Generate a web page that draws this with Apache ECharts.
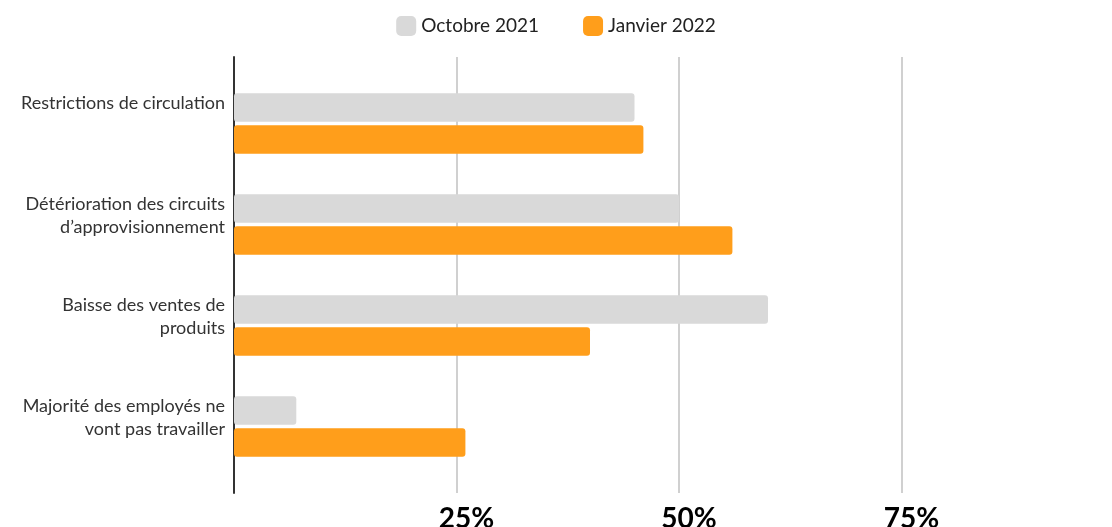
<!DOCTYPE html>
<html>
<head>
<meta charset="utf-8">
<script src="https://cdn.jsdelivr.net/npm/echarts@6/dist/echarts.min.js"></script>
<style>
  html, body { margin: 0; padding: 0; background: #fff; }
  #chart { width: 1112px; height: 527px; }
</style>
</head>
<body>
<div id="chart"></div>
<script>
// données
var categories = [
  "Restrictions de circulation",
  "Détérioration des circuits\nd’approvisionnement",
  "Baisse des ventes de\nproduits",
  "Majorité des employés ne\nvont pas travailler"
];
var seriesNames = ["Octobre 2021", "Janvier 2022"];
var octobre2021 = [45, 50, 60, 7];
var janvier2022 = [46, 56, 40, 26];
var tickValues = [0, 25, 50, 75, 100];

var FONT = "Lato, 'Noto Sans', sans-serif";
var chart = echarts.init(document.getElementById("chart"));

chart.setOption({
  animation: false,
  color: ["#d9d9d9", "#ff9e1b"],
  legend: {
    top: 11,
    left: "center",
    itemWidth: 20,
    itemHeight: 20,
    itemGap: 44,
    icon: "roundRect",
    textStyle: { fontFamily: FONT, fontSize: 19, color: "#222" },
    data: seriesNames
  },
  grid: [
    // grille des repères (lignes verticales, axe, étiquettes %)
    { left: 234, top: 57, width: 890, bottom: 34, outerBoundsMode: "none" },
    // grille des barres
    { left: 234, top: 73, width: 890, height: 404, outerBoundsMode: "none" },
    // grille des libellés de catégories
    { left: 234, top: 41.5, width: 890, height: 404, outerBoundsMode: "none" }
  ],
  xAxis: [
    {
      gridIndex: 0,
      type: "value",
      min: tickValues[0],
      max: tickValues[tickValues.length - 1],
      interval: 25,
      axisLine: { show: false },
      axisTick: { show: false },
      splitLine: { show: true, lineStyle: { color: "#d0d0d0", width: 2 } },
      axisLabel: {
        showMinLabel: false,
        showMaxLabel: false,
        formatter: function (v) { return v === 0 || v === 100 ? "" : v + "%"; },
        fontFamily: FONT,
        fontWeight: "bold",
        fontSize: 28,
        color: "#000",
        margin: 12,
        padding: [0, 0, 0, 20]
      }
    },
    { gridIndex: 1, type: "value", min: 0, max: 100, show: false },
    { gridIndex: 2, type: "value", min: 0, max: 100, show: false }
  ],
  yAxis: [
    {
      gridIndex: 0,
      type: "category",
      data: categories,
      inverse: true,
      axisLine: { show: true, lineStyle: { color: "#333", width: 2 } },
      axisTick: { show: false },
      axisLabel: { show: false },
      splitLine: { show: false }
    },
    {
      gridIndex: 1,
      type: "category",
      data: categories,
      inverse: true,
      show: false
    },
    {
      gridIndex: 2,
      type: "category",
      data: categories,
      inverse: true,
      axisLine: { show: false },
      axisTick: { show: false },
      axisLabel: {
        fontFamily: FONT,
        fontSize: 18,
        color: "#333",
        align: "right",
        verticalAlign: "top",
        lineHeight: 23,
        margin: 9
      }
    }
  ],
  series: [
    {
      name: seriesNames[0],
      type: "bar",
      xAxisIndex: 1,
      yAxisIndex: 1,
      data: octobre2021,
      barWidth: 28.5,
      barGap: "12%",
      itemStyle: { borderRadius: 3 }
    },
    {
      name: seriesNames[1],
      type: "bar",
      xAxisIndex: 1,
      yAxisIndex: 1,
      data: janvier2022,
      barWidth: 28.5,
      barGap: "12%",
      itemStyle: { borderRadius: 3 }
    }
  ]
});
</script>
</body>
</html>
